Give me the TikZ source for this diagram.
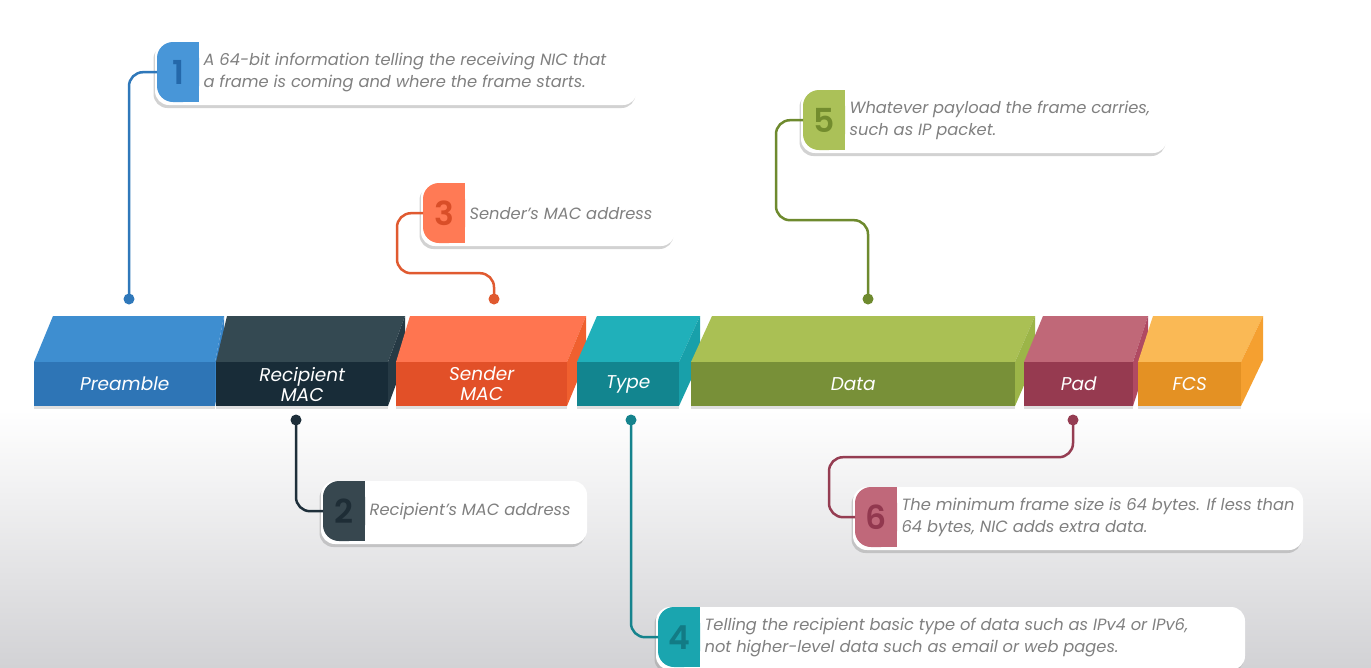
\documentclass[tikz,border=0pt]{standalone}
\usepackage{fontspec}
\setmainfont{Poppins}
\newfontfamily\numfont{Poppins SemiBold}
\usetikzlibrary{calc,shadows}
\definecolor{bggray}{HTML}{D2D2D5}
\definecolor{txtgray}{HTML}{808080}
% blocks
\definecolor{preTop}{HTML}{3E8ED0}\definecolor{preFront}{HTML}{2E75B6}\definecolor{preSide}{HTML}{3784C8}
\definecolor{recTop}{HTML}{344952}\definecolor{recFront}{HTML}{182C38}\definecolor{recSide}{HTML}{263A45}
\definecolor{senTop}{HTML}{FF7550}\definecolor{senFront}{HTML}{E25028}\definecolor{senSide}{HTML}{F0602F}
\definecolor{typTop}{HTML}{20B0BA}\definecolor{typFront}{HTML}{12858F}\definecolor{typSide}{HTML}{18A0AA}
\definecolor{datTop}{HTML}{AAC054}\definecolor{datFront}{HTML}{789038}\definecolor{datSide}{HTML}{9CB548}
\definecolor{padTop}{HTML}{C06878}\definecolor{padFront}{HTML}{963A50}\definecolor{padSide}{HTML}{B04A62}
\definecolor{fcsTop}{HTML}{FAB955}\definecolor{fcsFront}{HTML}{E49123}\definecolor{fcsSide}{HTML}{F5A030}
% badges
\definecolor{bA}{HTML}{4896D8}\definecolor{nA}{HTML}{2468AA}\definecolor{lA}{HTML}{2F78BA}
\definecolor{bB}{HTML}{37474F}\definecolor{nB}{HTML}{1E2D36}\definecolor{lB}{HTML}{1E2F3A}
\definecolor{bC}{HTML}{FF7A55}\definecolor{nC}{HTML}{D94E28}\definecolor{lC}{HTML}{E05A30}
\definecolor{bD}{HTML}{1AA5AF}\definecolor{nD}{HTML}{127B85}\definecolor{lD}{HTML}{15838D}
\definecolor{bE}{HTML}{ABC158}\definecolor{nE}{HTML}{738C2E}\definecolor{lE}{HTML}{6E8A2E}
\definecolor{bF}{HTML}{C0687A}\definecolor{nF}{HTML}{92384F}\definecolor{lF}{HTML}{953D52}

\tikzset{
  blockf/.style={inner sep=0pt, minimum height=44pt, text=white, align=center,
    font=\fontsize{18.5}{20}\selectfont\itshape,
    drop shadow={shadow xshift=0pt, shadow yshift=-3pt, opacity=0.25}},
  badge/.style={inner sep=0pt, minimum width=42pt, minimum height=60pt,
    font=\numfont\fontsize{33}{33}\selectfont},
  ctext/.style={anchor=west, align=left, text=txtgray, inner sep=0pt,
    font=\fontsize{16.3}{22}\selectfont\itshape},
  conn/.style={line width=2.5pt, rounded corners=14pt},
  dotnode/.style={circle, inner sep=0pt, minimum size=11pt},
  card/.style={fill=white, rounded corners=14pt,
    drop shadow={shadow xshift=-1.5pt, shadow yshift=-3pt, opacity=0.35}},
}

% name, x1, x2, back x1, back x2, top, front, side, label
\newcommand\frameblk[9]{%
  \fill[#6] (#2,362) -- (#4,316) -- (#5,316) -- (#3,362) -- cycle;
  \fill[#8] (#3,362) -- (#5,316) -- (#5,360) -- (#3,406) -- cycle;
  \node[blockf, fill=#7, minimum width={(#3-#2)*1pt}, anchor=north west] (#1) at (#2,362) {#9};
}
% name, x, y, card right, badge colour, number colour, number, text
\newcommand\callout[8]{%
  \fill[card] (#2-2,#3) rectangle (#4,#3+63);
  \fill[#5, rounded corners=16pt] (#2,#3) rectangle (#2+42,#3+60);
  \fill[#5] (#2+21,#3) rectangle (#2+42,#3+60);
  \node[badge, text=#6, anchor=north west] (#1) at (#2,#3) {#7};
  \node[ctext] (#1t) at ($(#1.east)+(4,0)$) {#8};
}

\begin{document}
\begin{tikzpicture}[x=1pt,y=-1pt]
\useasboundingbox (0,0) rectangle (1371,667);
\clip (0,0) rectangle (1371,667);
\fill[white] (0,0) rectangle (1371,667);
\shade[top color=white, bottom color=bggray] (0,410) rectangle (1371,667);

% blocks
\frameblk{pre}{34}{215}{53}{224}{preTop}{preFront}{preSide}{Preamble}
\frameblk{rec}{216}{388}{227}{405}{recTop}{recFront}{recSide}{Recipient\\MAC}
\frameblk{sen}{396}{567}{410}{586}{senTop}{senFront}{senSide}{Sender\\MAC}
\frameblk{typ}{577}{679}{597}{700}{typTop}{typFront}{typSide}{Type}
\frameblk{dat}{691}{1015}{712}{1035}{datTop}{datFront}{datSide}{Data}
\frameblk{pad}{1024}{1133}{1043}{1148}{padTop}{padFront}{padSide}{Pad}
\frameblk{fcs}{1138}{1241}{1153}{1263}{fcsTop}{fcsFront}{fcsSide}{FCS}

% callouts
\callout{b1}{157}{42}{637}{bA}{nA}{1}{A 64-bit information telling the receiving NIC that\\a frame is coming and where the frame starts.}
\callout{b2}{323}{481}{587}{bB}{nB}{2}{Recipient's MAC address}
\callout{b3}{423}{183}{675}{bC}{nC}{3}{Sender's MAC address}
\callout{b4}{658}{607}{1245}{bD}{nD}{4}{Telling the recipient basic type of data such as IPv4 or IPv6,\\not higher-level data such as email or web pages.}
\callout{b5}{803}{90}{1167}{bE}{nE}{5}{Whatever payload the frame carries,\\such as IP packet.}
\callout{b6}{855}{487}{1303}{bF}{nF}{6}{The minimum frame size is 64 bytes. If less than\\64 bytes, NIC adds extra data.}

% dots
\node[dotnode, fill=lA] (d1) at (129,299) {};
\node[dotnode, fill=lB] (d2) at (296,420) {};
\node[dotnode, fill=lC] (d3) at (494,299) {};
\node[dotnode, fill=lD] (d4) at (631,420) {};
\node[dotnode, fill=lE] (d5) at (868,299) {};
\node[dotnode, fill=lF] (d6) at (1073,420) {};

% connectors
\draw[conn, lA] (d1.center) |- (b1.west);
\draw[conn, lB] (d2.center) |- (b2.west);
\draw[conn, lC] (d3.center) |- ($(b3.west)+(-26,60)$) |- (b3.west);
\draw[conn, lD] (d4.center) |- (b4.west);
\draw[conn, lE] (d5.center) |- ($(b5.west)+(-27,100)$) |- (b5.west);
\draw[conn, lF] (d6.center) |- ($(b6.west)+(-26,-60)$) |- (b6.west);
\end{tikzpicture}
\end{document}
